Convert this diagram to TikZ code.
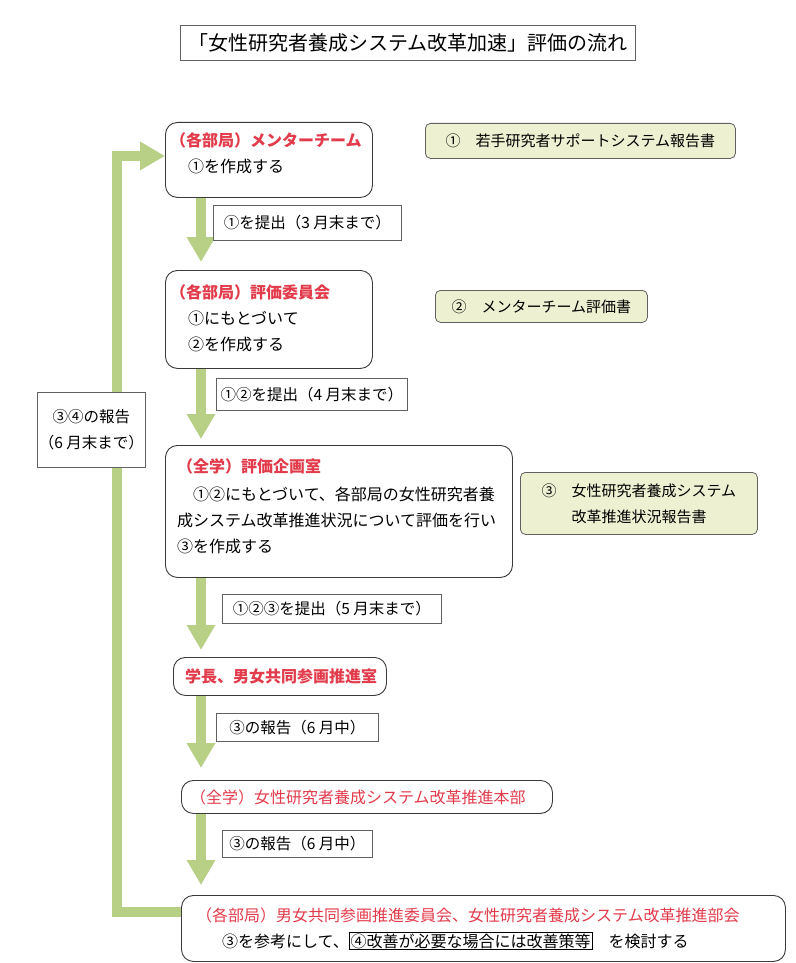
\documentclass[tikz,border=0pt]{standalone}
\usepackage{fontspec}
\setmainfont{Noto Sans CJK JP}
\usetikzlibrary{arrows.meta}
\definecolor{rd}{HTML}{E23B4B}
\definecolor{gr}{HTML}{B8CF86}
\definecolor{sidefill}{HTML}{EEF0D2}
\definecolor{bd}{HTML}{3A3A3A}
\newcommand\cnum[1]{\makebox[1em]{#1}}
\begin{document}
\begin{tikzpicture}[x=1pt,y=-1pt,
  flowbox/.style={draw=bd, line width=0.9pt, rounded corners=12pt, anchor=north west, inner sep=0pt},
  sidebox/.style={draw=bd!80, fill=sidefill, rounded corners=5pt, line width=0.8pt, anchor=north west, inner sep=0pt, font=\fontsize{15}{26}\selectfont},
  lblbox/.style={draw=bd!80, fill=white, line width=0.8pt, anchor=north west, inner sep=0pt, font=\fontsize{15.5}{26}\selectfont},
  txt/.style={anchor=west, inner sep=0pt, font=\fontsize{16}{18}\selectfont},
  redt/.style={anchor=west, inner sep=0pt, text=rd, font=\fontsize{16}{18}\selectfont\bfseries},
  redn/.style={anchor=west, inner sep=0pt, text=rd, font=\fontsize{16}{18}\selectfont},
  flow/.style={draw=gr, line width=10pt, -{Triangle[length=25pt,width=27pt]}}
]
\useasboundingbox[fill=white] (0,0) rectangle (795,963);

% title
\node[draw=bd!80, line width=0.9pt, anchor=north west, inner sep=0pt, minimum width=455pt, minimum height=35pt, font=\fontsize{20}{22}\selectfont] (title) at (180,25) {「女性研究者養成システム改革加速」評価の流れ};

% main boxes
\node[flowbox, minimum width=207pt, minimum height=75pt] (b1) at (165,122) {};
\node[flowbox, minimum width=207pt, minimum height=98pt] (b2) at (165,270) {};
\node[flowbox, minimum width=347pt, minimum height=132pt] (b3) at (165,445) {};
\node[flowbox, minimum width=213pt, minimum height=38pt] (b4) at (173,657) {};
\node[flowbox, minimum width=371pt, minimum height=33pt] (b5) at (181,780) {};
\node[flowbox, minimum width=604pt, minimum height=66pt] (b6) at (181,895) {};

% texts in boxes
\node[redt] (t1a) at (170,140) {（各部局）メンターチーム};
\node[txt] (t1b) at (188,166) {\cnum{①}を作成する};

\node[redt] (t2a) at (170,292) {（各部局）評価委員会};
\node[txt] (t2b) at (188,318) {\cnum{①}にもとづいて};
\node[txt] (t2c) at (188,344) {\cnum{②}を作成する};

\node[redt] (t3a) at (177,466) {（全学）評価企画室};
\node[txt] (t3b) at (177,494) {　\cnum{①}\cnum{②}にもとづいて、各部局の女性研究者養};
\node[txt] (t3c) at (177,520) {成システム改革推進状況について評価を行い};
\node[txt] (t3d) at (177,546) {\cnum{③}を作成する};

\node[redt] (t4) at (185,676) {学長、男女共同参画推進室};
\node[redn] (t5) at (190,797) {（全学）女性研究者養成システム改革推進本部};
\node[redn] (t6a) at (196,915) {（各部局）男女共同参画推進委員会、女性研究者養成システム改革推進部会};
\node[txt] (t6b) at (222,941) {\cnum{③}を参考にして、{\setlength{\fboxsep}{1pt}\setlength{\fboxrule}{0.8pt}\fbox{\cnum{④}改善が必要な場合には改善策等}}\quad を検討する};

% side boxes
\node[sidebox, minimum width=310pt, minimum height=35pt] (s1) at (425,123) {\cnum{①}\hspace{1em}若手研究者サポートシステム報告書};
\node[sidebox, minimum width=212pt, minimum height=32pt] (s2) at (435,290) {\cnum{②}\hspace{1em}メンターチーム評価書};
\node[sidebox, minimum width=237pt, minimum height=62pt, align=left] (s3) at (520,472) {\cnum{③}\hspace{1em}女性研究者養成システム\\\phantom{\cnum{③}}\hspace{1em}改革推進状況報告書};

% down arrows
\coordinate (ax) at (201,0);
\draw[flow, shorten >=8pt] (b1.south -| ax) -- (b2.north -| ax);
\draw[flow, shorten >=6pt] (b2.south -| ax) -- (b3.north -| ax);
\draw[flow, shorten >=7pt] (b3.south -| ax) -- (b4.north -| ax);
\draw[flow, shorten >=12pt] (b4.south -| ax) -- (b5.north -| ax);
\draw[flow, shorten >=10pt] (b5.south -| ax) -- (b6.north -| ax);

% arrow labels
\node[lblbox, minimum width=188pt, minimum height=35pt] (l1) at (213,205) {\cnum{①}を提出（3 月末まで）};
\node[lblbox, minimum width=191pt, minimum height=32pt] (l2) at (216,378) {\cnum{①}\cnum{②}を提出（4 月末まで）};
\node[lblbox, minimum width=219pt, minimum height=29pt] (l3) at (222,594) {\cnum{①}\cnum{②}\cnum{③}を提出（5 月末まで）};
\node[lblbox, minimum width=162pt, minimum height=28pt] (l4) at (216,713) {\cnum{③}の報告（6 月中）};
\node[lblbox, minimum width=150pt, minimum height=27pt] (l5) at (222,830) {\cnum{③}の報告（6 月中）};

% feedback loop
\draw[flow, line join=miter] ([yshift=16pt]b6.west) -- ++(-64,0) |- ([yshift=4pt]b1.west);
\node[lblbox, minimum width=108pt, minimum height=75pt, align=center] (lb) at (37,392) {\cnum{③}\cnum{④}の報告\\（6 月末まで）};
\end{tikzpicture}
\end{document}
